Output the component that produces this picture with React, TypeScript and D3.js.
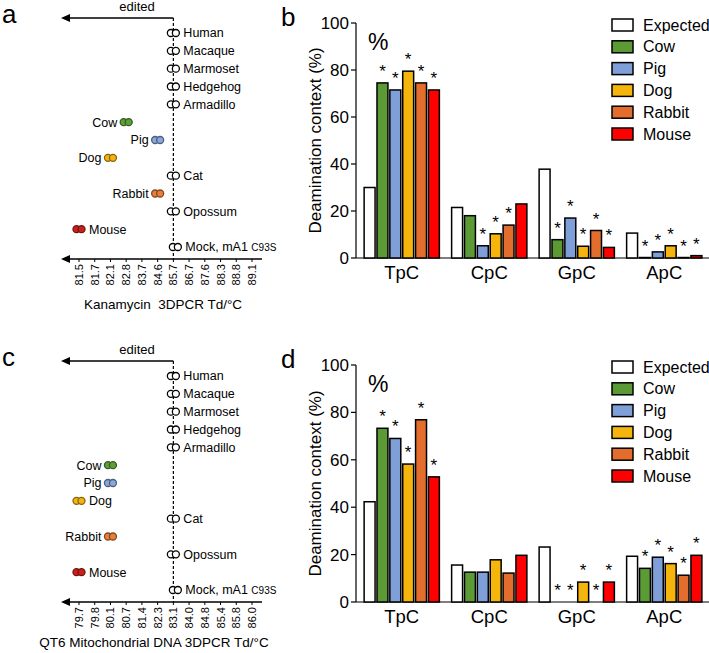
import React from "react";
import * as d3 from "d3";

// ---------- Data ----------
const speciesRows = ["Human", "Macaque", "Marmoset", "Hedgehog", "Armadillo", "Cow", "Pig", "Dog", "Cat", "Rabbit", "Opossum", "Mouse", "Mock"];
const speciesColor = ["white", "white", "white", "white", "white", "#5e9e3b", "#8aa8dc", "#f2b315", "white", "#e8803a", "white", "#c8201c", "white"];

const kanTicks = ["81.5", "81.7", "82.1", "82.8", "83.7", "84.6", "85.7", "86.7", "87.6", "88.3", "88.8", "89.1"];
const kanTd = ["85.7", "85.7", "85.7", "85.7", "85.7", "82.8", "84.6", "82.1", "85.7", "84.6", "85.7", "81.5", "85.7"];
const kanLabelSide = ["r", "r", "r", "r", "r", "l", "l", "l", "r", "l", "r", "r", "r"];

const qt6Ticks = ["79.7", "79.8", "80.1", "80.7", "81.4", "82.3", "83.1", "84.0", "84.8", "85.4", "85.8", "86.0"];
const qt6Td = ["83.1", "83.1", "83.1", "83.1", "83.1", "80.1", "80.1", "79.7", "83.1", "80.1", "83.1", "79.7", "83.1"];
const qt6LabelSide = ["r", "r", "r", "r", "r", "l", "l", "r", "r", "l", "r", "r", "r"];

const contexts = ["TpC", "CpC", "GpC", "ApC"];
const seriesNames = ["Expected", "Cow", "Pig", "Dog", "Rabbit", "Mouse"];
const seriesColors = ["#ffffff", "#5b9a35", "#7f9fd9", "#f5b50c", "#e36d2c", "#ff0000"];

const kanExpected = [30, 21.5, 37.8, 10.6];
const kanCow = [74.5, 18, 7.8, 0.2];
const kanPig = [71.5, 5.2, 17, 2.6];
const kanDog = [79.5, 10.3, 5, 5.2];
const kanRabbit = [74.5, 14, 11.7, 0.2];
const kanMouse = [71.5, 23, 4.5, 1];
const kanStars = [
  [0, 0, 0, 0],
  [1, 0, 1, 1],
  [1, 1, 1, 1],
  [1, 1, 1, 1],
  [1, 1, 1, 1],
  [1, 0, 1, 1],
];

const qtExpected = [42.3, 15.6, 23.2, 19.3];
const qtCow = [73.3, 12.6, 0, 14.2];
const qtPig = [69, 12.6, 0, 18.9];
const qtDog = [58.2, 17.8, 8.4, 16.2];
const qtRabbit = [76.9, 12.2, 0, 11.3];
const qtMouse = [52.8, 19.7, 8.4, 19.7];
const qtStars = [
  [0, 0, 0, 0],
  [1, 0, 1, 1],
  [1, 0, 1, 1],
  [1, 0, 1, 1],
  [1, 0, 1, 1],
  [1, 0, 1, 1],
];

const yTicks = [0, 20, 40, 60, 80, 100];

const FONT = "'Liberation Sans', Arial, Helvetica, sans-serif";

// ---------- Dot panel ----------
function DotPanel(props: {
  letter: string;
  top: number;
  ticks: string[];
  td: string[];
  sides: string[];
  title: string;
  titleX: number;
  titleDy: number;
}) {
  const { letter, top, ticks, td, sides, title, titleX, titleDy } = props;
  const x = d3.scalePoint<string>().domain(ticks).range([79, 252]);
  const y = d3.scalePoint<string>().domain(speciesRows).range([top + 15, top + 229]);
  const lineY = top;
  const axisY = top + 241;
  const refX = x(td[0]) as number;
  const r = 3.5;
  return (
    <g>
      <text x={2} y={lineY + 5} fontSize={26} fontFamily={FONT}>{letter}</text>
      <text x={137} y={lineY - 7} fontSize={13} fontFamily={FONT} textAnchor="middle">edited</text>
      <line x1={refX} y1={lineY} x2={68} y2={lineY} stroke="#000" strokeWidth={1.3} />
      <path d={`M61,${lineY} L70,${lineY - 4} L70,${lineY + 4} Z`} fill="#000" />
      <line x1={refX} y1={lineY} x2={refX} y2={axisY} stroke="#000" strokeWidth={1.2} strokeDasharray="3,2" />
      <line x1={68} y1={axisY} x2={262} y2={axisY} stroke="#000" strokeWidth={1.3} />
      <path d={`M61,${axisY} L70,${axisY - 4} L70,${axisY + 4} Z`} fill="#000" />
      {ticks.map((t) => (
        <g key={t}>
          <line x1={x(t)} x2={x(t)} y1={axisY} y2={axisY + 3} stroke="#000" strokeWidth={1} />
          <text
            transform={`translate(${(x(t) as number) + 4},${axisY + 5}) rotate(-90)`}
            textAnchor="end"
            fontSize={11}
            fontFamily={FONT}
          >
            {t}
          </text>
        </g>
      ))}
      <text x={titleX} y={axisY + titleDy} fontSize={13.5} fontFamily={FONT} textAnchor="middle" style={{ whiteSpace: "pre" }}>
        {title}
      </text>
      {speciesRows.map((s, i) => {
        const cx = x(td[i]) as number;
        const cy = y(s) as number;
        const fill = speciesColor[i];
        const stroke = fill === "white" ? "#000" : (d3.color(fill) as any).darker(1.6).toString();
        const isMock = s === "Mock";
        const off = isMock ? 2 : 0;
        const labelX = sides[i] === "r" ? cx + off + 10 : cx - 9;
        return (
          <g key={s}>
            <circle cx={cx + off - 2.5} cy={cy} r={r} fill={fill} stroke={stroke} strokeWidth={1.3} />
            <circle cx={cx + off + 2.5} cy={cy} r={r} fill={fill} stroke={stroke} strokeWidth={1.3} />
            <text
              x={labelX}
              y={cy}
              dy="0.35em"
              fontSize={12.5}
              fontFamily={FONT}
              textAnchor={sides[i] === "r" ? "start" : "end"}
            >
              {isMock ? (
                <>
                  {"Mock, mA1 "}
                  <tspan fontSize={10}>C93S</tspan>
                </>
              ) : (
                s
              )}
            </text>
          </g>
        );
      })}
    </g>
  );
}

// ---------- Bar panel ----------
function BarPanel(props: {
  letter: string;
  y0: number;
  y100: number;
  series: number[][];
  stars: number[][];
}) {
  const { letter, y0, y100, series, stars } = props;
  const x0 = d3.scaleBand<string>().domain(contexts).range([358, 708]).paddingInner(0.14).paddingOuter(0.07);
  const x1 = d3.scaleBand<string>().domain(seriesNames).range([0, x0.bandwidth()]).paddingInner(0.15).paddingOuter(0);
  const y = d3.scaleLinear().domain([0, 100]).range([y0, y100]);
  const axisX = 356;
  return (
    <g fontFamily={FONT}>
      <text x={281} y={y100 + 3} fontSize={26}>{letter}</text>
      <line x1={axisX} x2={axisX} y1={y(0)} y2={y(100)} stroke="#000" strokeWidth={1.2} />
      <line x1={axisX} x2={709} y1={y(0)} y2={y(0)} stroke="#000" strokeWidth={1.2} />
      {yTicks.map((t) => (
        <g key={t}>
          <line x1={axisX - 5} x2={axisX} y1={y(t)} y2={y(t)} stroke="#000" strokeWidth={1.2} />
          <text x={axisX - 7} y={y(t)} dy="0.35em" textAnchor="end" fontSize={17}>{t}</text>
        </g>
      ))}
      <text
        transform={`translate(321,${(y(0) + y(100)) / 2}) rotate(-90)`}
        textAnchor="middle"
        fontSize={17}
      >
        Deamination context (%)
      </text>
      <text x={368} y={y(100) + 27} fontSize={23}>%</text>
      {contexts.map((c, ci) => (
        <g key={c}>
          {seriesNames.map((s, si) => {
            const v = series[si][ci];
            const bx = (x0(c) as number) + (x1(s) as number);
            const top = y(v);
            return (
              <g key={s}>
                <rect
                  x={bx}
                  y={top}
                  width={x1.bandwidth()}
                  height={y(0) - top}
                  fill={seriesColors[si]}
                  stroke="#000"
                  strokeWidth={1.5}
                />
                {stars[si][ci] ? (
                  <text x={bx + x1.bandwidth() / 2} y={top - 6} textAnchor="middle" fontSize={17}>
                    *
                  </text>
                ) : null}
              </g>
            );
          })}
          <text x={(x0(c) as number) + x0.bandwidth() / 2} y={y(0) + 21} textAnchor="middle" fontSize={18.5}>
            {c}
          </text>
        </g>
      ))}
      {seriesNames.map((s, si) => {
        const ly = y(100) + 2 + si * 21.8;
        return (
          <g key={s}>
            <rect x={612} y={ly - 6} width={21} height={12} fill={seriesColors[si]} stroke="#000" strokeWidth={1.5} />
            <text x={643} y={ly} dy="0.35em" fontSize={16}>{s}</text>
          </g>
        );
      })}
    </g>
  );
}

export default function App() {
  return (
    <svg
      width={709}
      height={653}
      style={{ position: "absolute", left: 0, top: 0, background: "#fff" }}
    >
      <rect width={709} height={653} fill="#fff" />
      <DotPanel
        letter="a"
        top={18}
        ticks={kanTicks}
        td={kanTd}
        sides={kanLabelSide}
        title={"Kanamycin  3DPCR Td/°C"}
        titleX={163}
        titleDy={50}
      />
      <DotPanel
        letter="c"
        top={361}
        ticks={qt6Ticks}
        td={qt6Td}
        sides={qt6LabelSide}
        title={"QT6 Mitochondrial DNA 3DPCR Td/°C"}
        titleX={154}
        titleDy={45}
      />
      <BarPanel
        letter="b"
        y0={258}
        y100={23}
        series={[kanExpected, kanCow, kanPig, kanDog, kanRabbit, kanMouse]}
        stars={kanStars}
      />
      <BarPanel
        letter="d"
        y0={602}
        y100={365}
        series={[qtExpected, qtCow, qtPig, qtDog, qtRabbit, qtMouse]}
        stars={qtStars}
      />
    </svg>
  );
}
